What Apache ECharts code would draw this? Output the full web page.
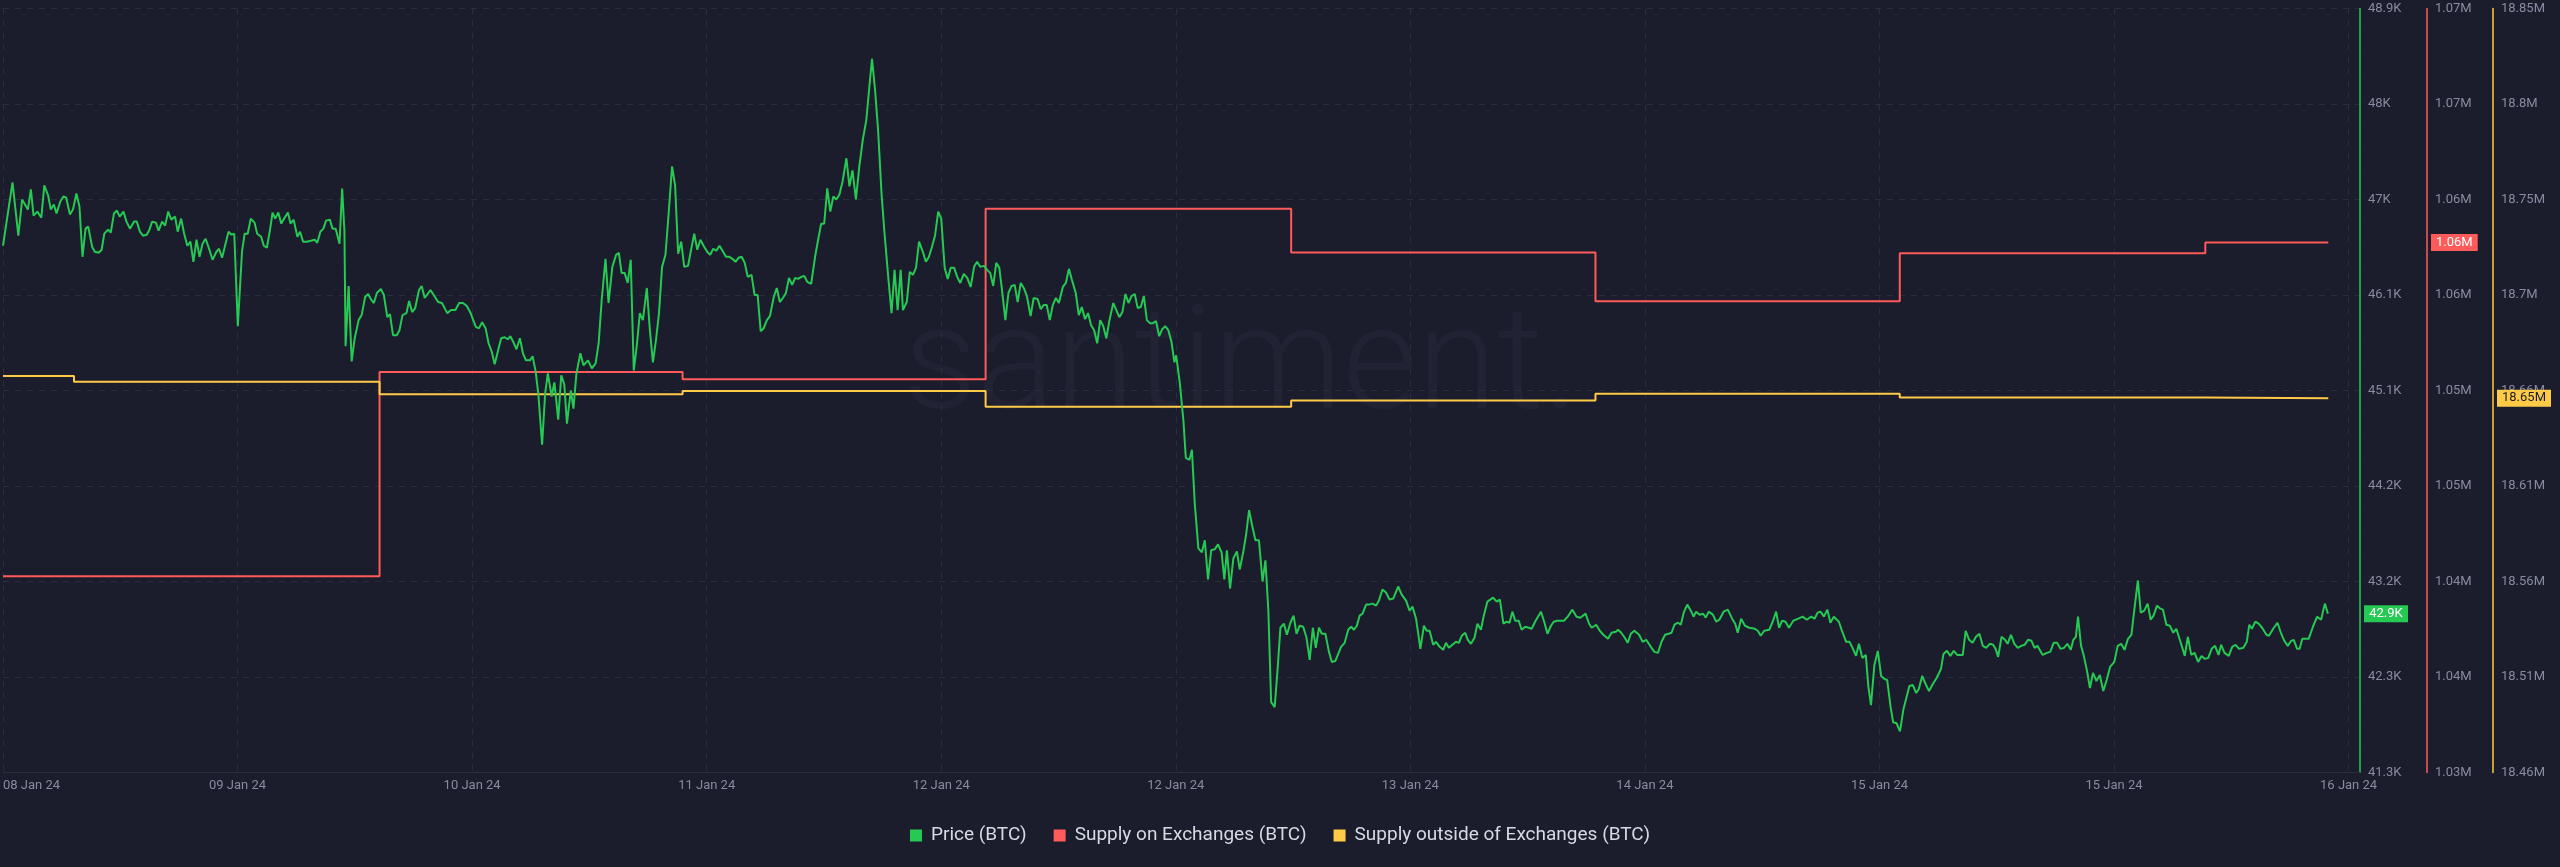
<!DOCTYPE html>
<html>
<head>
<meta charset="utf-8">
<script src="https://cdn.jsdelivr.net/npm/echarts@6/dist/echarts.min.js"></script>
<style>
  html, body { margin: 0; padding: 0; background: #1b1c2c; }
  #chart { width: 2560px; height: 867px; }
</style>
</head>
<body>
<div id="chart"></div>
<script>
// ---- DATA (x = hours since the first sample) ----
const xTickLabels = ['08 Jan 24','09 Jan 24','10 Jan 24','11 Jan 24','12 Jan 24','12 Jan 24','13 Jan 24','14 Jan 24','15 Jan 24','15 Jan 24','16 Jan 24'];
const xTickStepHours = 18.5;
const xMaxHours = 185.9;

const seriesNames = ['Price (BTC)', 'Supply on Exchanges (BTC)', 'Supply outside of Exchanges (BTC)'];

const priceBTC = [
[0,46540],[0.75,47170],[1.21,46640],[1.51,47000],[1.96,46900],[2.20,47100],[2.41,46840],[2.71,46880],[3.02,46820],[3.26,47140],[3.56,47040],[3.77,46900],[4.01,46950],[4.22,46860],[4.52,46980],[4.76,47030],[4.98,47020],[5.28,46850],[5.52,46900],[5.79,47060],[6.03,46930],[6.27,46430],[6.51,46710],[6.72,46730],[7.03,46530],[7.24,46480],[7.54,46470],[7.78,46500],[7.99,46660],[8.29,46700],[8.50,46670],[8.75,46860],[8.99,46890],[9.20,46830],[9.50,46880],[9.74,46780],[10.01,46710],[10.34,46780],[10.55,46780],[10.80,46680],[11.04,46640],[11.34,46650],[11.55,46700],[11.76,46780],[12.06,46770],[12.27,46690],[12.55,46780],[12.79,46740],[13.03,46880],[13.27,46800],[13.57,46830],[13.78,46680],[14.05,46810],[14.29,46660],[14.54,46540],[14.78,46580],[15.02,46380],[15.26,46600],[15.50,46430],[15.74,46560],[15.98,46610],[16.28,46500],[16.53,46400],[16.83,46480],[17.04,46510],[17.28,46420],[17.55,46560],[17.79,46680],[18.03,46650],[18.24,46660],[18.52,45740],[18.85,46480],[19.06,46660],[19.30,46660],[19.54,46810],[19.84,46770],[20.05,46660],[20.36,46630],[20.57,46540],[20.81,46520],[21.05,46690],[21.26,46870],[21.47,46810],[21.71,46870],[21.95,46760],[22.17,46810],[22.47,46870],[22.68,46760],[22.92,46800],[23.22,46630],[23.43,46680],[23.67,46580],[23.97,46580],[24.28,46590],[24.58,46600],[24.79,46570],[25.03,46680],[25.27,46710],[25.48,46790],[25.78,46800],[25.99,46710],[26.24,46710],[26.54,46560],[26.75,47110],[26.93,46680],[27.02,45540],[27.26,46140],[27.50,45390],[27.74,45620],[28.05,45800],[28.29,45850],[28.56,46030],[28.80,46060],[29.01,46010],[29.25,45970],[29.49,46070],[29.80,46110],[30.04,46050],[30.31,45830],[30.52,45860],[30.76,45650],[31.06,45650],[31.27,45700],[31.51,45850],[31.82,45870],[32.03,45990],[32.27,45880],[32.51,45920],[32.81,46100],[33.02,46140],[33.26,46020],[33.72,46100],[34.02,46040],[34.32,45980],[34.62,45970],[35.04,45870],[35.34,45900],[35.68,45900],[35.98,45970],[36.28,45970],[36.58,45940],[36.88,45870],[37.30,45730],[37.55,45720],[37.79,45780],[38.06,45720],[38.30,45570],[38.54,45490],[38.78,45360],[39.05,45500],[39.29,45620],[39.57,45630],[39.81,45610],[40.02,45640],[40.26,45580],[40.50,45510],[40.77,45620],[41.01,45470],[41.25,45400],[41.56,45400],[41.77,45440],[42.01,45290],[42.22,45070],[42.52,44560],[42.76,45070],[42.97,45270],[43.27,45040],[43.49,45180],[43.79,44810],[44.03,45250],[44.27,45160],[44.48,44770],[44.78,45100],[44.99,44920],[45.23,45270],[45.54,45470],[45.78,45350],[46.14,45400],[46.44,45320],[46.74,45370],[46.98,45570],
[47.22,46000],[47.52,46410],[47.76,45970],[48.06,46330],[48.36,46450],[48.57,46470],[48.79,46270],[49.03,46270],[49.27,46170],[49.51,46400],[49.75,45300],[49.99,45550],[50.23,45870],[50.47,45800],[50.78,46120],[51.02,45700],[51.26,45380],[51.50,45600],[51.74,45870],[51.98,46330],[52.25,46450],[52.50,46860],[52.77,47330],[53.01,47140],[53.25,46460],[53.49,46580],[53.73,46330],[54.03,46340],[54.27,46500],[54.52,46660],[54.76,46500],[55.00,46600],[55.30,46530],[55.54,46480],[55.78,46450],[56.02,46510],[56.26,46490],[56.51,46540],[56.75,46490],[57.02,46430],[57.29,46430],[57.53,46410],[57.77,46380],[58.01,46420],[58.26,46430],[58.50,46370],[58.74,46230],[59.04,46250],[59.28,46050],[59.52,46050],[59.76,45690],[60.00,45720],[60.25,45800],[60.49,45840],[60.79,46030],[61.03,46120],[61.27,45980],[61.51,46020],[61.75,46070],[61.99,46220],[62.24,46150],[62.48,46220],[62.72,46210],[62.96,46230],[63.20,46240],[63.44,46180],[63.74,46160],[64.05,46430],[64.29,46600],[64.53,46760],[64.77,46760],[65.01,47110],[65.25,46880],[65.49,47030],[65.73,47000],[65.97,47050],[66.22,47180],[66.52,47410],[66.76,47130],[67.00,47290],[67.27,47000],[67.54,47330],[67.81,47590],[68.09,47790],[68.33,48120],[68.54,48400],[68.78,48090],[69.02,47690],[69.29,47060],[69.53,46660],[69.84,46200],[70.08,45870],[70.32,46300],[70.56,45900],[70.80,46300],[70.98,45900],[71.28,45980],[71.52,46280],[71.77,46250],[72.01,46320],[72.25,46580],[72.55,46480],[72.79,46380],[73.03,46430],[73.27,46530],[73.51,46640],[73.76,46880],[74.00,46810],[74.27,46320],[74.51,46210],[74.75,46320],[75.02,46320],[75.26,46230],[75.50,46170],[75.78,46260],[76.05,46220],[76.32,46130],[76.59,46330],[76.83,46380],[77.07,46330],[77.37,46340],[77.62,46300],[77.86,46270],[78.10,46140],[78.34,46370],[78.58,46320],[78.82,46070],[79.06,45800],[79.30,46070],[79.55,46140],[79.79,46150],[80.03,45980],[80.27,46170],[80.51,46120],[80.75,46040],[81.05,45840],[81.29,46020],[81.60,46010],[81.84,45910],[82.08,45950],[82.32,45950],[82.56,45800],[82.80,45950],[83.04,46020],[83.28,45970],[83.59,46130],[83.83,46170],[84.07,46310],[84.31,46200],[84.61,46070],[84.85,45850],[85.09,45930],[85.34,45810],[85.58,45870],[85.82,45750],[86.06,45700],[86.30,45570],[86.54,45800],[86.78,45740],[87.02,45620],[87.27,45800],[87.57,45970],[87.81,45900],[88.05,45830],[88.29,45880],[88.53,46060],[88.77,45970],[89.01,46040],[89.26,46060],[89.50,45920],[89.74,45930],[89.98,46040],[90.22,45800],[90.46,45770],[90.70,45770],[90.94,45790],[91.19,45640],[91.43,45710],[91.67,45740],[91.91,45700],[92.15,45590],[92.39,45380],
[92.53,45450],[92.82,45170],[93.10,44800],[93.29,44430],[93.58,44410],[93.77,44510],[94.00,43970],[94.28,43530],[94.56,43490],[94.79,43610],[95.04,43220],[95.29,43510],[95.57,43520],[95.83,43570],[96.11,43490],[96.33,43220],[96.53,43510],[96.78,43130],[97.04,43430],[97.32,43500],[97.54,43320],[97.80,43480],[98.05,43670],[98.28,43910],[98.50,43770],[98.78,43610],[99.06,43610],[99.34,43200],[99.57,43410],[99.80,42910],[100.02,42000],[100.30,41950],[100.53,42330],[100.75,42740],[101.03,42780],[101.26,42670],[101.54,42790],[101.79,42860],[102.02,42680],[102.27,42760],[102.55,42750],[102.81,42640],[103.06,42420],[103.31,42740],[103.54,42540],[103.79,42740],[104.02,42680],[104.30,42680],[104.58,42500],[104.81,42400],[105.09,42410],[105.31,42480],[105.54,42550],[105.82,42590],[106.10,42720],[106.33,42750],[106.55,42720],[106.78,42760],[107.00,42860],[107.23,42880],[107.51,42970],[107.73,42970],[108.01,42980],[108.30,42960],[108.52,43010],[108.80,43120],[109.08,43090],[109.36,43020],[109.65,43030],[110.04,43150],[110.32,43070],[110.66,43010],[110.94,42910],[111.17,42950],[111.45,42830],[111.79,42530],[112.07,42760],[112.29,42710],[112.52,42710],[112.80,42570],[113.02,42600],[113.31,42550],[113.59,42520],[113.81,42590],[114.04,42540],[114.32,42570],[114.60,42600],[114.83,42590],[115.05,42660],[115.33,42690],[115.53,42620],[115.78,42580],[116.06,42640],[116.29,42780],[116.57,42720],[116.79,42860],[117.08,43000],[117.53,43040],[117.81,43000],[118.06,43020],[118.34,42780],[118.60,42800],[118.82,42790],[119.05,42900],[119.27,42810],[119.55,42810],[119.78,42720],[120.06,42750],[120.34,42740],[120.57,42730],[120.88,42810],[121.30,42900],[121.58,42790],[121.81,42680],[122.09,42760],[122.31,42800],[122.59,42810],[123.13,42810],[123.41,42850],[123.78,42920],[124.11,42850],[124.40,42840],[124.82,42880],[125.10,42780],[125.30,42740],[125.66,42770],[125.94,42710],[126.22,42670],[126.59,42630],[126.87,42690],[127.21,42700],[127.38,42720],[127.63,42690],[127.91,42640],[128.14,42590],[128.39,42680],[128.67,42710],[129.04,42670],[129.32,42600],[129.60,42620],[129.97,42550],[130.25,42500],[130.53,42490],[130.81,42600],[131.09,42670],[131.37,42680],[131.60,42690],[131.83,42770],[132.11,42790],[132.33,42770],[132.56,42890],[132.84,42970],[133.12,42910],[133.34,42850],[133.54,42900],[133.82,42870],[134.10,42880],[134.30,42840],[134.53,42900],
[134.86,42870],[135.13,42800],[135.37,42820],[135.71,42900],[136.04,42920],[136.38,42830],[136.62,42780],[136.82,42690],[137.09,42830],[137.39,42760],[137.73,42740],[138.17,42730],[138.40,42710],[138.64,42660],[138.91,42710],[139.31,42720],[139.58,42800],[139.85,42900],[140.08,42740],[140.32,42810],[140.59,42800],[140.86,42740],[141.20,42810],[141.60,42830],[141.94,42850],[142.27,42820],[142.61,42850],[142.88,42830],[143.12,42890],[143.35,42900],[143.62,42850],[143.89,42920],[144.13,42790],[144.40,42850],[144.80,42800],[145.04,42710],[145.37,42600],[145.64,42600],[145.91,42530],[146.15,42460],[146.38,42580],[146.65,42440],[146.92,42470],[147.12,42160],[147.33,41970],[147.60,42370],[147.87,42510],[148.13,42260],[148.40,42230],[148.61,42220],[148.88,41950],[149.08,41800],[149.35,41790],[149.62,41710],[149.89,41930],[150.16,42060],[150.36,42160],[150.63,42170],[150.90,42090],[151.10,42130],[151.37,42260],[151.64,42180],[151.91,42110],[152.21,42180],[152.51,42240],[152.85,42330],[153.05,42480],[153.32,42510],[153.59,42460],[153.86,42510],[154.13,42470],[154.57,42470],[154.80,42710],[155.07,42620],[155.34,42590],[155.61,42650],[155.88,42680],[156.15,42560],[156.42,42540],[156.69,42580],[156.96,42570],[157.16,42530],[157.36,42450],[157.63,42650],[157.90,42620],[158.10,42580],[158.37,42670],[158.64,42580],[158.91,42540],[159.18,42560],[159.45,42570],[159.72,42620],[159.99,42610],[160.23,42540],[160.46,42560],[160.87,42470],[161.20,42490],[161.47,42500],[161.74,42590],[162.01,42590],[162.28,42530],[162.55,42540],[162.82,42580],[163.09,42520],[163.29,42620],[163.49,42650],[163.66,42850],[163.90,42560],[164.10,42470],[164.37,42310],[164.60,42140],[164.84,42290],[165.11,42210],[165.38,42270],[165.65,42110],[165.92,42220],[166.19,42350],[166.52,42400],[166.79,42560],[167.06,42580],[167.33,42520],[167.60,42630],[167.87,42670],[168.14,42960],[168.38,43210],[168.61,42890],[168.88,42910],[169.15,42980],[169.39,42820],[169.62,42860],[169.89,42960],[170.16,42930],[170.36,42920],[170.63,42770],[170.90,42760],[171.17,42690],[171.41,42730],[171.74,42600],[172.08,42460],[172.32,42650],[172.59,42470],[172.86,42490],[173.13,42400],[173.40,42460],[173.67,42430],[173.93,42440],[174.20,42530],[174.47,42560],[174.74,42470],[174.95,42570],[175.21,42490],[175.55,42460],[175.82,42550],[176.09,42570],[176.36,42530],[176.70,42540],[176.97,42600],[177.17,42770],[177.37,42730],[177.64,42800],[177.91,42780],[178.18,42740],[178.52,42670],[178.72,42660],[179.05,42730],[179.39,42790],[179.66,42690],[179.93,42610],[180.20,42560],[180.47,42610],[180.67,42620],[180.94,42530],[181.14,42530],[181.35,42630],[181.85,42630],[182.19,42750],[182.52,42850],[182.83,42820],[183.13,42980],[183.37,42880]
];

// step series: [hour of change, new value]
const supplyOnExchanges = [
[0,1040280],[29.7,1050970],[53.6,1050590],[77.5,1059520],[101.6,1057220],[125.6,1054670],[149.6,1057180],[173.7,1057750],[183.4,1057750]
];
const supplyOutsideExchanges = [
[0,18662400],[5.6,18659490],[29.7,18653060],[53.6,18654750],[77.5,18646700],[101.6,18649950],[125.6,18653320],[149.6,18651430],[173.7,18651070],[183.4,18651070]
];

// axis ranges (ticks)
const priceAxis = { min: 41300, max: 48900, interval: 950 };
const onExAxis = { min: 1030000, max: 1070000, interval: 5000 };
const outExAxis = { min: 18460000, max: 18850000, interval: 48750 };

// ---- STYLE ----
const C_GREEN = '#26c953', C_RED = '#ff5b5b', C_YELLOW = '#ffcb47';
const BG = '#1b1c2c', GRID = '#2a2d40', LABEL = '#878ca0';
const FONT = 'Roboto, "Noto Sans", sans-serif';

function fmtK(v) { return (Math.round(v / 100 + 1e-6) / 10) + 'K'; }
function fmtM(v) { return parseFloat((Math.round(v / 10000 + 1e-6) / 100).toFixed(2)) + 'M'; }

const lastOf = arr => arr[arr.length - 1][1];

function yAxisDef(range, color, offset, fmt, lastVal, boxText, withPointer) {
  return {
    type: 'value', position: 'right', offset: offset,
    min: range.min, max: range.max, interval: range.interval,
    axisLine: { show: true, onZero: false, lineStyle: { color: color, width: 1.5 } },
    axisTick: { show: false },
    axisLabel: { color: LABEL, fontSize: 13, fontFamily: FONT, margin: 8, formatter: fmt, showMinLabel: true, showMaxLabel: true },
    splitLine: { show: false },
    axisPointer: {
      show: withPointer, status: withPointer ? 'show' : 'hide', value: lastVal, type: 'line',
      triggerTooltip: false, triggerEmphasis: false,
      lineStyle: { opacity: 0 },
      label: {
        show: true, formatter: p => fmt(p.value), backgroundColor: color, color: boxText,
        fontSize: 13, fontFamily: FONT, padding: [2, 5, 2, 5], margin: 4, borderRadius: 0
      }
    }
  };
}

const chart = echarts.init(document.getElementById('chart'), null, { renderer: 'canvas' });

const yAxes = [
  yAxisDef(priceAxis, C_GREEN, 0, fmtK, lastOf(priceBTC), '#ffffff', false),
  yAxisDef(onExAxis, C_RED, 67, fmtM, lastOf(supplyOnExchanges), '#ffffff', true),
  yAxisDef(outExAxis, C_YELLOW, 133, fmtM, lastOf(supplyOutsideExchanges), '#1b1c2c', true)
];
yAxes[0].splitLine = { show: true, lineStyle: { color: GRID, type: [6, 6], width: 1 } };

const watermark = {
  id: 'wm', type: 'text', z: 0, silent: true, x: 1241, y: 372,
  style: { text: 'santiment.', align: 'center', verticalAlign: 'middle',
    font: '300 145px Roboto, sans-serif', fill: 'rgba(120,130,170,0.08)' }
};

chart.setOption({
  backgroundColor: BG,
  animation: false,
  textStyle: { fontFamily: FONT },
  grid: { left: 0, right: 200, top: 8.5, bottom: 94.5, containLabel: false },
  graphic: [watermark],
  legend: {
    bottom: 17, left: 'center', icon: 'rect', itemWidth: 12, itemHeight: 12, itemGap: 27,
    textStyle: { color: '#d7dae3', fontSize: 19, fontFamily: FONT, padding: [0, 0, 0, 4] },
    data: seriesNames
  },
  xAxis: {
    type: 'value', min: 0, max: xMaxHours, interval: xTickStepHours,
    axisLine: { show: true, onZero: false, lineStyle: { color: '#2a2d3e', width: 1 } },
    axisTick: { show: false },
    axisLabel: {
      color: LABEL, fontSize: 13, fontFamily: FONT, margin: 7, alignMinLabel: 'left',
      formatter: v => {
        const i = v / xTickStepHours;
        if (Math.abs(i - Math.round(i)) > 1e-6) return '';
        return xTickLabels[Math.round(i)] || '';
      }
    },
    splitLine: { show: true, lineStyle: { color: GRID, type: [6, 6], width: 1 } }
  },
  yAxis: yAxes,
  series: [
    { name: seriesNames[0], type: 'line', yAxisIndex: 0, data: priceBTC, showSymbol: false, symbol: 'none',
      lineStyle: { color: C_GREEN, width: 2 }, itemStyle: { color: C_GREEN }, z: 3 },
    { name: seriesNames[1], type: 'line', yAxisIndex: 1, data: supplyOnExchanges, step: 'end', showSymbol: false, symbol: 'none',
      lineStyle: { color: C_RED, width: 2 }, itemStyle: { color: C_RED }, z: 2 },
    { name: seriesNames[2], type: 'line', yAxisIndex: 2, data: supplyOutsideExchanges, step: 'end', showSymbol: false, symbol: 'none',
      lineStyle: { color: C_YELLOW, width: 2 }, itemStyle: { color: C_YELLOW }, z: 2 }
  ]
});

// Last-price tag on the price axis, positioned through the chart's own scales.
const lastPrice = lastOf(priceBTC);
const tagText = fmtK(lastPrice);
const measureCtx = document.createElement('canvas').getContext('2d');
measureCtx.font = '13px Roboto';
const tagW = Math.round(measureCtx.measureText(tagText).width) + 10;
const tagH = 17;
const axisX = chart.convertToPixel({ xAxisIndex: 0 }, xMaxHours);
const tagY = chart.convertToPixel({ yAxisIndex: 0 }, lastPrice);
chart.setOption({
  graphic: [watermark,
    { id: 'priceTagBox', type: 'rect', z: 50, silent: true,
      shape: { x: axisX + 4, y: tagY - tagH / 2, width: tagW, height: tagH },
      style: { fill: C_GREEN } },
    { id: 'priceTagText', type: 'text', z: 51, silent: true,
      x: axisX + 4 + tagW / 2, y: tagY + 0.5,
      style: { text: tagText, fill: '#ffffff', font: '13px Roboto', align: 'center', verticalAlign: 'middle' } }
  ]
});
</script>
</body>
</html>
